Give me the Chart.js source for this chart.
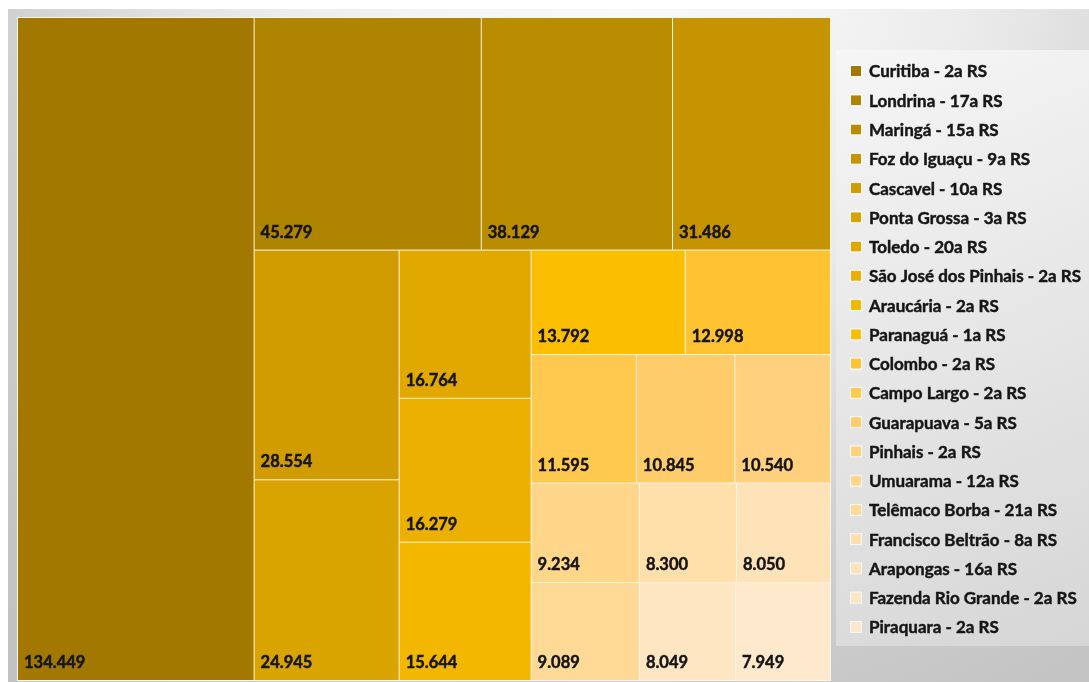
<!DOCTYPE html>
<html>
<head>
<meta charset="utf-8">
<script src="https://cdn.jsdelivr.net/npm/chart.js@4.4.1/dist/chart.umd.min.js"></script>
<style>
  html, body { margin: 0; padding: 0; background: #ffffff; }
  #wrap { width: 1089px; height: 682px; position: relative; }
  canvas { display: block; }
</style>
</head>
<body>
<div id="wrap"><canvas id="c" width="1089" height="682"></canvas></div>
<script>
// ---- data ----
const categories = [
  'Curitiba - 2a RS', 'Londrina - 17a RS', 'Maringá - 15a RS', 'Foz do Iguaçu - 9a RS',
  'Cascavel - 10a RS', 'Ponta Grossa - 3a RS', 'Toledo - 20a RS', 'São José dos Pinhais - 2a RS',
  'Araucária - 2a RS', 'Paranaguá - 1a RS', 'Colombo - 2a RS', 'Campo Largo - 2a RS',
  'Guarapuava - 5a RS', 'Pinhais - 2a RS', 'Umuarama - 12a RS', 'Telêmaco Borba - 21a RS',
  'Francisco Beltrão - 8a RS', 'Arapongas - 16a RS', 'Fazenda Rio Grande - 2a RS', 'Piraquara - 2a RS'
];
const values = [
  134449, 45279, 38129, 31486, 28554, 24945, 16764, 16279, 15644, 13792,
  12998, 11595, 10845, 10540, 9234, 9089, 8300, 8050, 8049, 7949
];
// ---- palette (style) ----
const palette = [
  '#A27800', '#AF8400', '#BA8C00', '#C59400', '#D19C00', '#D9A300', '#E1A900', '#EBB000',
  '#F3B700', '#FBBE00', '#FFC230', '#FFC84E', '#FFCC6C', '#FFD17E', '#FFD68A', '#FFDA97',
  '#FFDFAA', '#FFE3B8', '#FFE6C3', '#FFE9CC'
];

function fmt(v) { return String(v).replace(/\B(?=(\d{3})+(?!\d))/g, '.'); }

// Squarified layout (Excel-like: a dominant item keeps its own strip)
function squarify(vals, W, H) {
  const total = vals.reduce((a, b) => a + b, 0);
  const k = (W * H) / total;
  const items = vals.map((v, i) => ({ i, v, a: v * k }));
  const rects = new Array(vals.length);
  let x = 0, y = 0, w = W, h = H, idx = 0;
  function worst(row, side) {
    const s = row.reduce((t, r) => t + r.a, 0);
    let mx = 0;
    row.forEach(r => {
      const thick = s / side, len = r.a / thick;
      mx = Math.max(mx, thick / len, len / thick);
    });
    return mx;
  }
  while (idx < items.length) {
    const side = Math.min(w, h);
    let row = [items[idx]];
    let best = worst(row, side);
    let j = idx + 1;
    while (j < items.length) {
      if (items[j].v < items[idx].v * 0.5) break;
      const cand = row.concat([items[j]]);
      const wr = worst(cand, side);
      if (wr > best) break;
      row = cand; best = wr; j++;
    }
    const s = row.reduce((t, r) => t + r.a, 0);
    if (w >= h) {
      const cw = s / h; let cy = y;
      row.forEach(r => { const rh = r.a / cw; rects[r.i] = { x0: x, y0: cy, x1: x + cw, y1: cy + rh }; cy += rh; });
      x += cw; w -= cw;
    } else {
      const rh = s / w; let cx = x;
      row.forEach(r => { const rw = r.a / rh; rects[r.i] = { x0: cx, y0: y, x1: cx + rw, y1: y + rh }; cx += rw; });
      y += rh; h -= rh;
    }
    idx = j;
  }
  return rects;
}

const bgPlugin = {
  id: 'bg',
  beforeDraw(chart) {
    const c = chart.ctx;
    c.save();
    const g = c.createRadialGradient(620, -60, 0, 620, -60, 900);
    g.addColorStop(0, '#fbfbfb');
    g.addColorStop(0.25, '#f3f3f3');
    g.addColorStop(0.4, '#ebebeb');
    g.addColorStop(0.55, '#dddddd');
    g.addColorStop(0.7, '#cfcfcf');
    g.addColorStop(1, '#c2c2c2');
    c.fillStyle = g;
    c.fillRect(8, 9, chart.width - 8, chart.height - 9);
    // legend panel
    const lg = c.createLinearGradient(836, 50, 1089, 645);
    lg.addColorStop(0, '#f6f6f6');
    lg.addColorStop(1, '#d6d6d6');
    c.fillStyle = lg;
    c.fillRect(836, 50, chart.width - 836, 596);
    c.restore();
  }
};

function heavyText(c, txt, x, y) {
  c.fillText(txt, x, y);
  c.lineWidth = 0.45;
  c.strokeStyle = c.fillStyle;
  c.strokeText(txt, x, y);
}

const treemapPlugin = {
  id: 'treemap',
  afterDatasetsDraw(chart) {
    const xs = chart.scales.x, ys = chart.scales.y, ca = chart.chartArea;
    const W = ca.right - ca.left, H = ca.bottom - ca.top;
    const rects = squarify(values, W, H);
    const c = chart.ctx;
    c.save();
    // light frame / separators
    c.fillStyle = '#fcf6e6';
    c.fillRect(ca.left, ca.top, W + 1, H + 1);
    rects.forEach((r, i) => {
      const px0 = xs.getPixelForValue(r.x0 / W * 100);
      const px1 = xs.getPixelForValue(r.x1 / W * 100);
      const py0 = ys.getPixelForValue(r.y0 / H * 100);
      const py1 = ys.getPixelForValue(r.y1 / H * 100);
      c.fillStyle = palette[i];
      c.fillRect(px0 + 1, py0 + 1, px1 - px0 - 1, py1 - py0 - 1);
      c.fillStyle = '#141414';
      c.font = 'bold 16.5px Lato, "Open Sans", sans-serif';
      c.textBaseline = 'alphabetic';
      c.textAlign = 'left';
      heavyText(c, fmt(values[i]), px0 + 7, py1 - 12);
    });
    c.restore();
  }
};

const legendPlugin = {
  id: 'customLegend',
  afterDraw(chart) {
    const c = chart.ctx;
    c.save();
    const top = 71, step = 29.26;
    c.font = 'bold 17px Lato, "Open Sans", sans-serif';
    c.textBaseline = 'middle';
    c.textAlign = 'left';
    categories.forEach((name, i) => {
      const cy = top + i * step;
      c.fillStyle = palette[i];
      c.fillRect(851, cy - 5, 10, 10);
      c.strokeStyle = 'rgba(255,255,255,0.8)';
      c.lineWidth = 1;
      c.strokeRect(850.5, cy - 5.5, 11, 11);
      c.fillStyle = '#161616';
      heavyText(c, name, 869, cy + 1);
    });
    c.restore();
  }
};

new Chart(document.getElementById('c'), {
  type: 'scatter',
  data: { datasets: [{ label: 'Treemap', data: [], pointRadius: 0 }] },
  options: {
    responsive: false,
    animation: false,
    layout: { padding: { left: 17, top: 17, right: 259, bottom: 2 } },
    scales: {
      x: { type: 'linear', min: 0, max: 100, display: false },
      y: { type: 'linear', min: 0, max: 100, reverse: true, display: false }
    },
    plugins: { legend: { display: false }, tooltip: { enabled: false } }
  },
  plugins: [bgPlugin, treemapPlugin, legendPlugin]
});
</script>
</body>
</html>
